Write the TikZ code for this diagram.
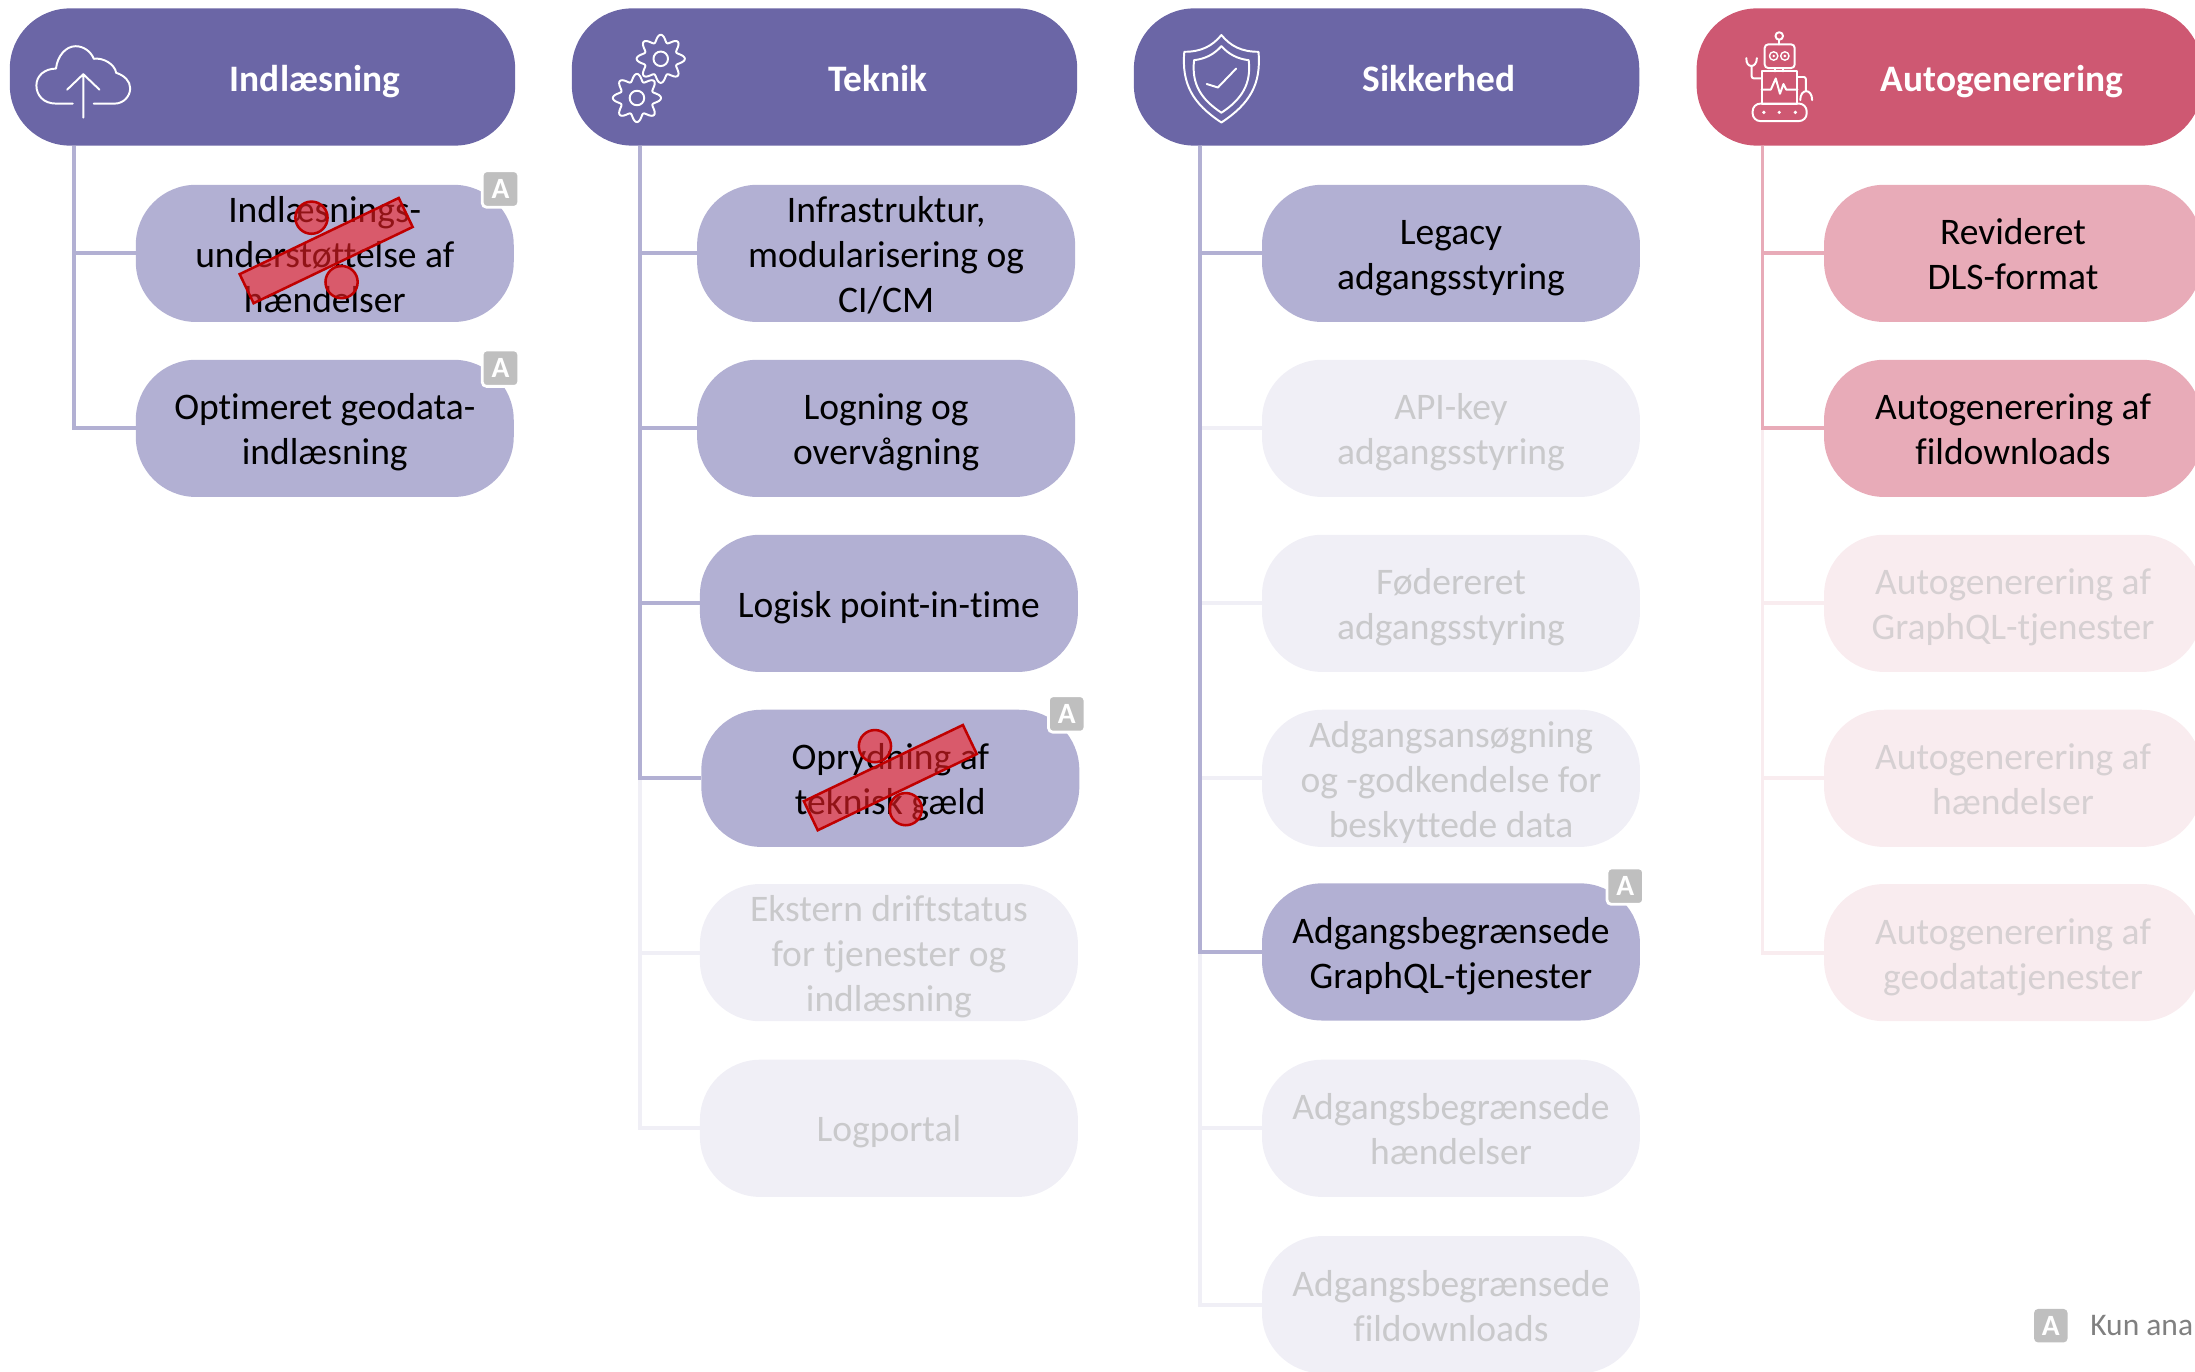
\documentclass[tikz,border=0pt]{standalone}
\usepackage{fontspec}
\setmainfont{Carlito}[Ligatures=CommonOff]
\definecolor{hpur}{HTML}{6B66A6}
\definecolor{ipur}{HTML}{B2B0D3}
\definecolor{fpur}{HTML}{F0EFF6}
\definecolor{hred}{HTML}{CE5872}
\definecolor{ired}{HTML}{E8ABB8}
\definecolor{fred}{HTML}{F9ECEF}
\definecolor{ftxt}{HTML}{C9C9CB}
\definecolor{ftxr}{HTML}{D6D0D2}
\definecolor{bgray}{HTML}{BFBFBF}
\definecolor{strikeline}{HTML}{C00000}
\definecolor{strikefill}{HTML}{F32126}
\tikzset{
  x=1pt,y=-1pt,
  pill/.style={rectangle,rounded corners=43pt,minimum width=270pt,minimum height=98pt,inner sep=0pt,align=center,font=\fontsize{26.8}{32}\selectfont,text depth=0pt,text height=52pt},
  oneline/.style={text height=19.5pt},
  threeline/.style={text height=84pt},
  hdr/.style={pill,minimum width=361pt,fill=hpur},
  hdrr/.style={pill,minimum width=361pt,fill=hred},
  title/.style={font=\fontsize{26.7}{30}\selectfont\bfseries,text=white,inner sep=0pt},
  itemp/.style={pill,fill=ipur,text=black},
  itemf/.style={pill,fill=fpur,text=ftxt},
  itemr/.style={pill,fill=ired,text=black},
  itemg/.style={pill,fill=fred,text=ftxr},
  linkp/.style={ipur,line width=2.7pt},
  linkf/.style={fpur,line width=2.7pt},
  linkr/.style={ired,line width=2.7pt},
  linkg/.style={fred,line width=2.7pt},
  badge/.style={rectangle,rounded corners=3pt,fill=bgray,draw=white,line width=2pt,minimum size=26pt,inner sep=0pt,text=white,font=\fontsize{21}{21}\selectfont\bfseries},
  icon/.style={white,line width=1.4pt,line join=round,line cap=round},
  strikebar/.style={rectangle,fill=strikefill,fill opacity=.6,draw=strikeline,line width=1.8pt,minimum width=126pt,minimum height=23pt,inner sep=0pt},
  strikedot/.style={circle,fill=strikefill,fill opacity=.6,draw=strikeline,line width=1.8pt,minimum size=23pt,inner sep=0pt},
}
\newcommand{\gearicon}[2]{%
  \draw[icon,shift={(#1,#2)},domain=0:360,samples=145,variable=\t]
    plot ({(14.6+2.6*cos(8*\t))*cos(\t)},{(14.6+2.6*cos(8*\t))*sin(\t)}) -- cycle;
  \draw[icon] (#1,#2) circle (5.2pt);
}
\begin{document}
\begin{tikzpicture}
\useasboundingbox (0,0) rectangle (1568,980);
\clip (0,0) rectangle (1568,980);
% headers
\node[hdr] (h1) at (187.5,55) {};
\node[hdr] (h2) at (589,55) {};
\node[hdr] (h3) at (990.5,55) {};
\node[hdrr] (h4) at (1392.5,55) {};
\node[title] (t1) at (225,58) {Indlæsning};
\node[title] (t2) at (627,56) {Teknik};
\node[title] (t3) at (1028,56) {Sikkerhed};
\node[title] (t4) at (1430,58) {Autogenerering};
\coordinate (r1) at (53,104);
\coordinate (r2) at (457,104);
\coordinate (r3) at (857,104);
\coordinate (r4) at (1259,104);
% column 1
\node[itemp,threeline] (a1) at (232,181) {Indlæsnings-\\understøttelse af\\hændelser};
\node[itemp] (a2) at (232,306) {Optimeret geodata-\\indlæsning};
% column 2
\node[itemp,threeline] (b1) at (633,181) {Infrastruktur,\\modularisering og\\CI/CM};
\node[itemp] (b2) at (633,306) {Logning og\\overvågning};
\node[itemp,oneline] (b3) at (635,431) {Logisk point-in-time};
\node[itemp] (b4) at (636,556) {Oprydning af\\teknisk gæld};
\node[itemf,threeline] (b5) at (635,680.5) {Ekstern driftstatus\\for tjenester og\\indlæsning};
\node[itemf,oneline] (b6) at (635,806) {Logportal};
% column 3
\node[itemp] (c1) at (1036.5,181) {Legacy\\adgangsstyring};
\node[itemf] (c2) at (1036.5,306) {API-key\\adgangsstyring};
\node[itemf] (c3) at (1036.5,431) {Fødereret\\adgangsstyring};
\node[itemf,threeline] (c4) at (1036.5,556) {Adgangsansøgning\\og -godkendelse for\\beskyttede data};
\node[itemp] (c5) at (1036.5,680) {Adgangsbegrænsede\\GraphQL-tjenester};
\node[itemf] (c6) at (1036.5,806) {Adgangsbegrænsede\\hændelser};
\node[itemf] (c7) at (1036.5,932) {Adgangsbegrænsede\\fildownloads};
% column 4
\node[itemr] (d1) at (1438,181) {Revideret\\DLS-format};
\node[itemr] (d2) at (1438,306) {Autogenerering af\\fildownloads};
\node[itemg] (d3) at (1438,431) {Autogenerering af\\GraphQL-tjenester};
\node[itemg] (d4) at (1438,556) {Autogenerering af\\hændelser};
\node[itemg] (d5) at (1438,680.5) {Autogenerering af\\geodatatjenester};
% connectors, faded first
\draw[linkf] (r2) |- (b6.west);
\draw[linkf] (r2) |- (b5.west);
\draw[linkf] (r3) |- (c7.west);
\draw[linkf] (r3) |- (c6.west);
\draw[linkf] (r3) |- (c4.west);
\draw[linkf] (r3) |- (c3.west);
\draw[linkf] (r3) |- (c2.west);
\draw[linkg] (r4) |- (d5.west);
\draw[linkg] (r4) |- (d4.west);
\draw[linkg] (r4) |- (d3.west);
\draw[linkp] (r1) |- (a1.west);
\draw[linkp] (r1) |- (a2.west);
\draw[linkp] (r2) |- (b1.west);
\draw[linkp] (r2) |- (b2.west);
\draw[linkp] (r2) |- (b3.west);
\draw[linkp] (r2) |- (b4.west);
\draw[linkp] (r3) |- (c1.west);
\draw[linkp] (r3) |- (c5.west);
\draw[linkr] (r4) |- (d1.west);
\draw[linkr] (r4) |- (d2.west);
% strike-outs
\node[strikebar,rotate=25.6] (s1) at (233,179) {};
\node[strikedot] (s1a) at (222.5,155.5) {};
\node[strikedot] (s1b) at (244,201.5) {};
\node[strikebar,rotate=25.6] (s2) at (636,555.5) {};
\node[strikedot] (s2a) at (625,533) {};
\node[strikedot] (s2b) at (647,578) {};
% badges
\node[badge] (q1) at (357.5,135) {A};
\node[badge] (q2) at (357.5,263) {A};
\node[badge] (q3) at (762,510) {A};
\node[badge] (q4) at (1161,633) {A};
\node[badge,draw=none,minimum size=24pt] (q5) at (1465,947) {A};
\node[anchor=west,inner sep=0pt,text=gray,font=\fontsize{22.5}{22.5}\selectfont] (lg) at (1493,947) {Kun ana};
% cloud icon
\draw[icon] (52,74) -- (40,74) .. controls (31,74) and (26,68) .. (26,61) .. controls (26,54) and (32,49) .. (40,49) .. controls (41,40) and (47,33) .. (54,33) .. controls (60,33) and (65,37) .. (67,42) .. controls (74,41) and (82,46) .. (83,52) .. controls (89,54) and (93,58) .. (93,63) .. controls (93,69) and (88,74) .. (82,74) -- (67,74);
\draw[icon] (59.5,84) -- (59.5,53) (48,64) -- (59.5,53) -- (71,64);
% gears
\gearicon{472}{42}
\gearicon{455}{70}
% shield
\draw[icon] (872.5,25) .. controls (866,33) and (858,37) .. (846,37) .. controls (844,60) and (852,74) .. (872.5,87.5) .. controls (893,74) and (901,60) .. (899,37) .. controls (887,37) and (879,33) .. (872.5,25) -- cycle;
\draw[icon] (872.5,33) .. controls (867,39) and (861,42) .. (853,43) .. controls (851,60) and (858,71) .. (872.5,80.5) .. controls (887,71) and (894,60) .. (892,43) .. controls (884,42) and (878,39) .. (872.5,33) -- cycle;
\draw[icon] (862,60) -- (870,62.5) -- (883,49);
% robot
\draw[icon] (1271,25.7) circle (2.7pt);
\draw[icon] (1271,28.4) -- (1271,31.7);
\draw[icon,rounded corners=2.5pt] (1260.6,31.7) rectangle (1282,48.6);
\draw[icon,line width=1pt] (1267,40) circle (3pt) (1275,40) circle (3pt);
\fill[white] (1267,40) circle (1pt) (1275,40) circle (1pt);
\draw[icon] (1268,48.6) -- (1268,51) (1274,48.6) -- (1274,51);
\draw[icon] (1258.4,51) rectangle (1284,74);
\draw[icon] (1258.4,64) -- (1265,64) -- (1268.5,56) -- (1271.5,67) -- (1274,60) -- (1276,64) -- (1284,64);
\draw[icon,rounded corners=5.5pt] (1252,74) rectangle (1290.6,86.5);
\fill[white] (1260,80.3) circle (1.3pt) (1271,80.3) circle (1.3pt) (1282.5,80.3) circle (1.3pt);
\draw[icon,rounded corners=1.5pt] (1258.4,56) -- (1251.3,56) -- (1251.3,47);
\draw[icon] (1247.5,41.5) .. controls (1247,49) and (1255,49) .. (1255,41.5);
\draw[icon,rounded corners=1.5pt] (1284,55) -- (1290,55) -- (1290,65);
\draw[icon] (1286,71.5) .. controls (1286,63) and (1294.5,63) .. (1294.5,71.5);
\end{tikzpicture}
\end{document}
